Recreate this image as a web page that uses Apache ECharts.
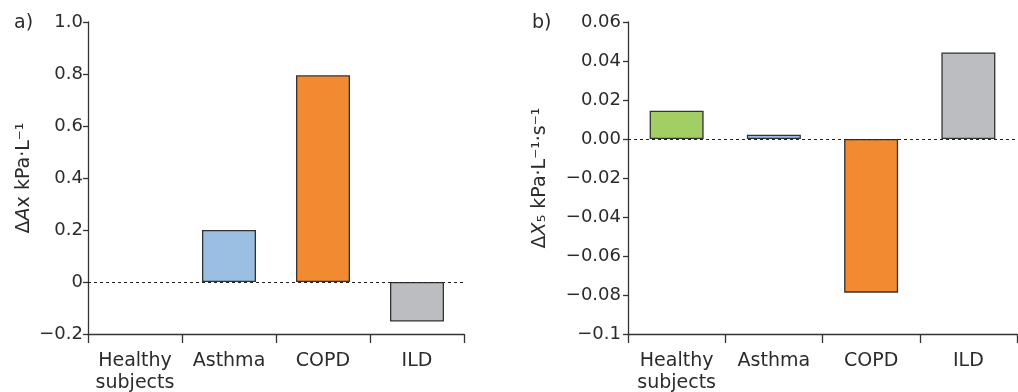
<!DOCTYPE html>
<html><head><meta charset="utf-8">
<script src="https://cdn.jsdelivr.net/npm/echarts@6/dist/echarts.min.js"></script>
<style>html,body{margin:0;padding:0;background:#fff}#c{width:1018px;height:392px}</style>
</head><body><div id="c"></div>
<script>
const categories = ['Healthy\nsubjects', 'Asthma', 'COPD', 'ILD'];
const barColors = ['#a2cf63', '#9bbfe3', '#f28a31', '#bcbdc0'];
const valuesA = [null, 0.2, 0.795, -0.152];
const valuesB = [0.0145, 0.0022, -0.0788, 0.0444];
const yTicksA = ['\u22120.2', '0', '0.2', '0.4', '0.6', '0.8', '1.0'];
const yTicksB = ['\u22120.1', '\u22120.08', '\u22120.06', '\u22120.04', '\u22120.02', '0.00', '0.02', '0.04', '0.06'];
const panelLabels = ['a)', 'b)'];

const FONT = 'DejaVu Sans';
const ink = '#2b2b2b';
const axisLine = {show: true, onZero: false, lineStyle: {color: '#333', width: 1.3}};

function mkData(vals) {
  return vals.map((v, i) => ({value: v, itemStyle: {color: barColors[i]}}));
}
const zeroLine = {
  silent: true, symbol: 'none', label: {show: false},
  lineStyle: {color: '#222', type: [3, 3], width: 1},
  data: [{yAxis: 0}]
};
const nameRich = {
  d: {fontFamily: FONT, fontSize: 19, color: ink},
  i: {fontFamily: FONT, fontSize: 19, fontStyle: 'italic', color: ink}
};

const chart = echarts.init(document.getElementById('c'), null, {renderer: 'canvas'});
chart.setOption({
  animation: false,
  backgroundColor: '#fff',
  title: [
    {text: panelLabels[0], left: 9, top: 9, textStyle: {fontFamily: FONT, fontSize: 19, fontWeight: 'normal', color: ink}},
    {text: panelLabels[1], left: 527, top: 9, textStyle: {fontFamily: FONT, fontSize: 19, fontWeight: 'normal', color: ink}}
  ],
  grid: [
    {left: 88, right: 554, top: 22, bottom: 58, containLabel: false, outerBoundsMode: 'none'},
    {left: 628, right: 1, top: 22, bottom: 58, containLabel: false, outerBoundsMode: 'none'}
  ],
  xAxis: [0, 1].map(g => ({
    type: 'category', gridIndex: g, data: categories,
    axisLine: axisLine,
    axisTick: {show: true, interval: 0, length: 9, lineStyle: {color: '#333', width: 1.3}},
    axisLabel: {interval: 0, fontFamily: FONT, fontSize: 19, color: ink, margin: 16, lineHeight: 22}
  })),
  yAxis: [
    {type: 'value', gridIndex: 0, min: -0.2, max: 1.0, interval: 0.2,
     splitLine: {show: false}, axisLine: axisLine,
     axisTick: {show: true, length: 5, lineStyle: {color: '#333', width: 1.3}},
     axisLabel: {fontFamily: FONT, fontSize: 18, color: ink, margin: 5,
                 formatter: (v, i) => yTicksA[i]},
     name: '{d|\u0394}{i|A}{d|x kPa\u00b7L\u207b\u00b9}', nameLocation: 'middle', nameGap: 54,
     nameTextStyle: {rich: nameRich}},
    {type: 'value', gridIndex: 1, min: -0.1, max: 0.06, interval: 0.02,
     splitLine: {show: false}, axisLine: axisLine,
     axisTick: {show: true, length: 5, lineStyle: {color: '#333', width: 1.3}},
     axisLabel: {fontFamily: FONT, fontSize: 18, color: ink, margin: 7,
                 formatter: (v, i) => yTicksB[i]},
     name: '{d|\u0394}{i|X}{d|\u2085 kPa\u00b7L\u207b\u00b9\u00b7s\u207b\u00b9}', nameLocation: 'middle', nameGap: 78,
     nameTextStyle: {rich: nameRich}}
  ],
  series: [
    {type: 'bar', xAxisIndex: 0, yAxisIndex: 0, data: mkData(valuesA), barWidth: 54,
     itemStyle: {borderColor: '#333', borderWidth: 1.3}, markLine: zeroLine, z: 2},
    {type: 'bar', xAxisIndex: 1, yAxisIndex: 1, data: mkData(valuesB), barWidth: 54,
     itemStyle: {borderColor: '#333', borderWidth: 1.3}, markLine: zeroLine, z: 2}
  ]
});
</script></body></html>
